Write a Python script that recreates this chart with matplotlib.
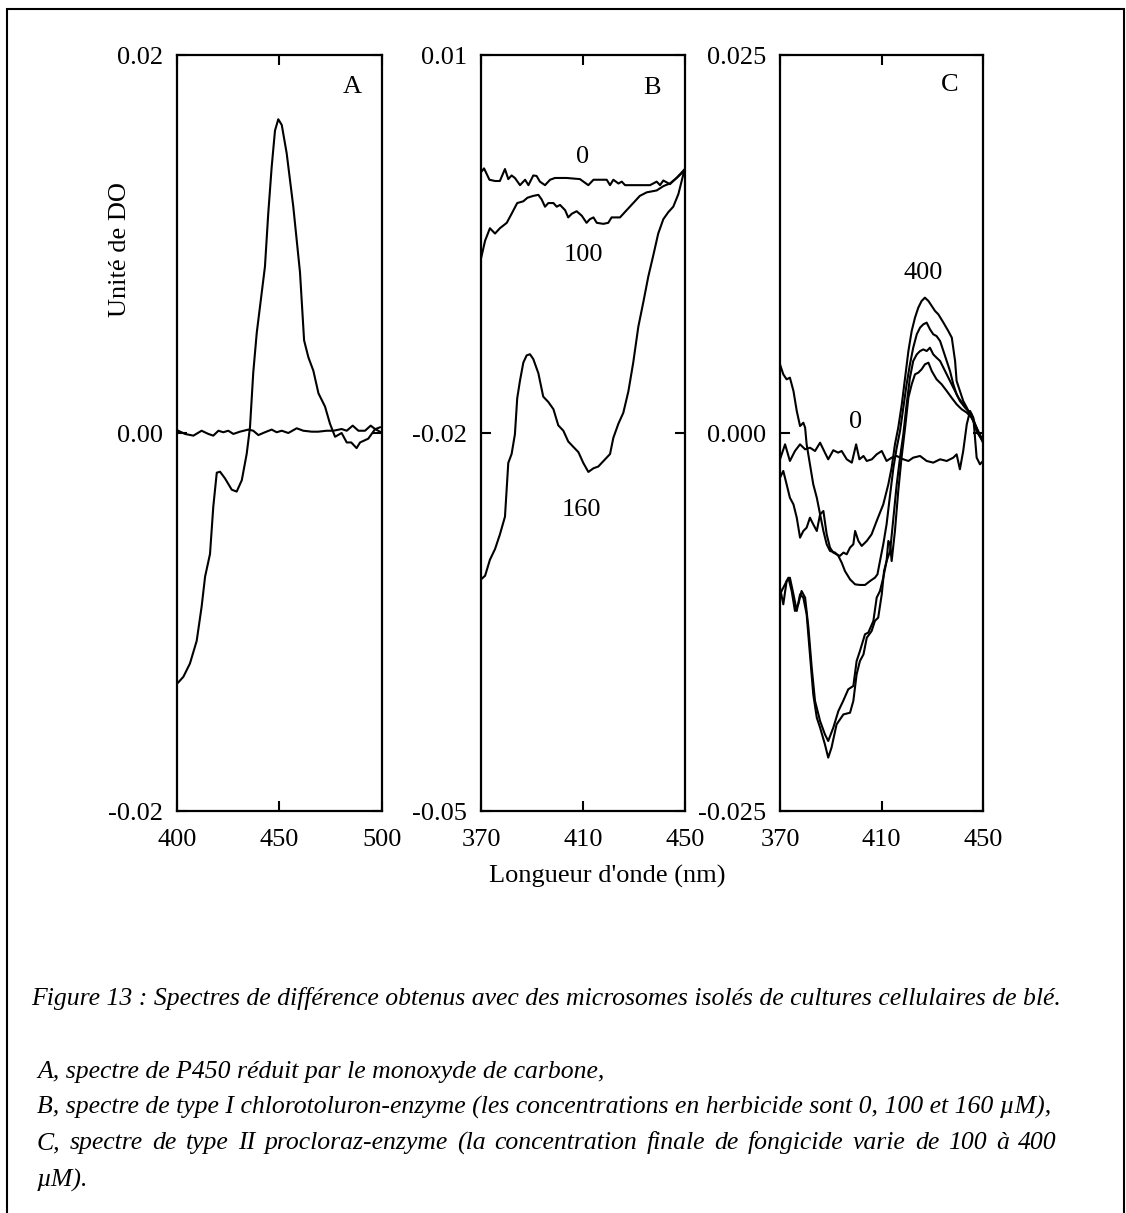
import matplotlib
matplotlib.use("Agg")
import matplotlib.pyplot as plt
from matplotlib.patches import Rectangle

plt.rcParams['font.family'] = ['Liberation Serif', 'DejaVu Serif']

# ---- panel A : P450 reduced by CO ----
a_x = [400.6, 403.1, 406.3, 409.6, 412.0, 413.7, 416.1, 417.7, 419.4, 421.0, 423.4, 426.7,
       429.1, 431.6, 434.0, 435.6, 437.2, 438.9, 440.5, 442.9, 444.5, 446.2, 447.8, 449.4,
       451.1, 453.5, 456.7, 460.0, 462.0, 464.1, 466.5, 469.0, 472.2, 474.6, 477.1, 480.3,
       482.8, 485.0, 487.6, 489.3, 493.3, 496.6, 499.0]
a_y = [-0.0132, -0.0129, -0.0122, -0.0110, -0.0092, -0.0076, -0.0064, -0.0039, -0.0021, -0.00205,
       -0.0024, -0.0030, -0.0031, -0.0025, -0.0011, 0.0003, 0.0032, 0.0053, 0.0067, 0.0088,
       0.0116, 0.0141, 0.0160, 0.0166, 0.0163, 0.0148, 0.0120, 0.0085, 0.0049, 0.0040,
       0.0033, 0.0021, 0.0014, 0.0005, -0.0002, -0.0000, -0.0005, -0.0005, -0.0008, -0.0005,
       -0.0003, 0.0002, 0.0003]
a_base_x = [400.6, 403.9, 408.0, 412.0, 415.3, 417.7, 420.2, 422.6, 425.0, 427.5, 430.7, 434.8,
            437.2, 439.7, 442.9, 446.2, 448.6, 451.1, 454.3, 458.4, 461.6, 465.7, 468.9, 473.0,
            476.3, 480.3, 482.8, 485.7, 488.5, 491.7, 494.5, 496.6, 499.0]
a_base_y = [0.00012, -0.00005, -0.00014, 0.00012, -0.00005, -0.00014, 0.00012, 0.00004, 0.00012,
            -0.00005, 0.00007, 0.00018, 0.00012, -0.00011, 0.00004, 0.00018, 0.00004, 0.00012,
            0.00000, 0.00025, 0.00012, 0.00007, 0.00007, 0.00012, 0.00012, 0.00021, 0.00012,
            0.00039, 0.00012, 0.00012, 0.00039, 0.00021, 0.00007]

# ---- panel B : chlorotoluron type I ----
b0_x = [370.0, 371.2, 373.3, 375.5, 377.4, 379.4, 380.7, 382.0, 383.3, 385.3, 387.3, 388.6,
        390.5, 391.8, 393.1, 395.1, 397.1, 399.0, 403.6, 408.8, 412.1, 414.1, 419.3, 420.6,
        421.9, 423.9, 425.2, 426.5, 429.7, 436.3, 438.9, 440.2, 441.5, 444.1, 446.7, 449.7]
b0_y = [0.0007, 0.0010, 0.0001, 0.0000, 0.0000, 0.00095, 0.00015, 0.00044, 0.00024, -0.00033,
        0.0001, -0.00033, 0.00044, 0.0004, -0.00005, -0.00033, 0.0001, 0.00024, 0.00024, 0.00015,
        -0.00033, 0.0001, 0.0001, -0.00033, 0.0001, -0.0002, -0.00005, -0.00033, -0.00033,
        -0.00033, -0.00005, -0.00033, 0.00004, -0.00025, 0.00024, 0.0008]
b100_x = [370.0, 371.6, 373.5, 375.5, 377.4, 380.1, 382.0, 384.2, 386.6, 388.2, 390.5, 392.5,
          393.8, 395.1, 396.4, 398.4, 399.7, 401.0, 403.0, 404.2, 405.6, 407.5, 409.5, 411.4,
          412.7, 414.1, 415.4, 418.0, 419.9, 421.2, 424.5, 427.1, 429.7, 432.3, 435.0, 438.9,
          441.5, 444.1, 446.7, 449.7]
b100_y = [-0.00616, -0.00474, -0.00375, -0.00417, -0.00375, -0.00332, -0.0026, -0.00175, -0.00161,
          -0.00133, -0.00118, -0.0011, -0.00147, -0.00204, -0.00175, -0.00175, -0.00204, -0.0019,
          -0.00232, -0.00289, -0.0026, -0.0024, -0.00275, -0.00332, -0.00303, -0.00289, -0.00332,
          -0.0034, -0.00332, -0.00289, -0.00289, -0.00232, -0.00175, -0.00118, -0.0009, -0.00075,
          -0.00041, -0.00019, 0.00024, 0.0009]
b160_x = [370.0, 371.6, 373.5, 375.5, 377.4, 379.4, 380.7, 382.0, 383.3, 384.2, 385.3, 386.6,
          387.9, 389.2, 390.5, 392.5, 394.4, 396.4, 398.4, 400.3, 402.3, 404.2, 406.2, 408.2,
          410.1, 412.1, 414.1, 416.0, 418.0, 420.6, 421.9, 423.9, 425.8, 427.8, 429.7, 431.7,
          433.7, 435.6, 437.6, 439.5, 441.5, 443.5, 445.4, 447.4, 449.7]
b160_y = [-0.03162, -0.03133, -0.03006, -0.02921, -0.02806, -0.02664, -0.02237, -0.02167, -0.0201,
          -0.01725, -0.01583, -0.01441, -0.01384, -0.01375, -0.01413, -0.01526, -0.01711, -0.01754,
          -0.01811, -0.01939, -0.01982, -0.02067, -0.0211, -0.02152, -0.02237, -0.02309, -0.0228,
          -0.02266, -0.02223, -0.02167, -0.02038, -0.01925, -0.0184, -0.01669, -0.01441, -0.01156,
          -0.00957, -0.00759, -0.00587, -0.00417, -0.00303, -0.00246, -0.00204, -0.00104, 0.00081]

# ---- panel C : prochloraz type II ----
c0_x = [370.0, 372.0, 373.9, 375.9, 377.9, 379.9, 381.8, 383.8, 385.8, 387.7, 389.0, 391.0,
        392.9, 394.3, 396.3, 398.3, 400.0, 401.3, 402.9, 404.2, 406.2, 408.1, 410.1, 412.0,
        414.0, 416.0, 418.6, 420.6, 422.5, 425.2, 427.8, 430.4, 433.1, 435.7, 438.3, 439.6,
        440.9, 442.2, 443.6, 444.9, 446.2, 447.5, 448.8, 450.0]
c0_y = [-0.00174, -0.00075, -0.00185, -0.00119, -0.00075, -0.00108, -0.00097, -0.00119, -0.00064,
        -0.0013, -0.00174, -0.00114, -0.0013, -0.00119, -0.00174, -0.00196, -0.00075, -0.00174,
        -0.00152, -0.00185, -0.00174, -0.00141, -0.00119, -0.00185, -0.00163, -0.00152, -0.00174,
        -0.00185, -0.00163, -0.00152, -0.00185, -0.00196, -0.00174, -0.00185, -0.00163, -0.00141,
        -0.0024, -0.00119, 0.00057, 0.00146, 0.00101, -0.00163, -0.00207, -0.00185]
c1_x = [370.0, 371.3, 372.6, 373.9, 375.3, 376.6, 377.9, 379.2, 379.9, 380.5, 381.8, 383.1,
        384.5, 385.8, 387.1, 388.4, 389.7, 391.7, 393.0, 394.3, 395.6, 397.6, 399.6, 401.5,
        403.5, 405.5, 407.4, 408.4, 409.4, 410.7, 412.0, 413.4, 414.7, 416.0, 417.3, 418.6,
        419.9, 421.2, 422.5, 423.9, 425.2, 426.5, 427.8, 429.1, 430.4, 431.7, 433.1, 434.4,
        435.7, 437.0, 438.3, 439.6, 440.9, 442.9, 444.9, 446.2, 448.2, 450.0]
c1_y = [0.00454, 0.00388, 0.00355, 0.00366, 0.00278, 0.00146, 0.00046, 0.00068, 0.00035, -0.00075,
        -0.00207, -0.00339, -0.00428, -0.00538, -0.00648, -0.00736, -0.0078, -0.00791, -0.00813,
        -0.00857, -0.00913, -0.00968, -0.01001, -0.01005, -0.01005, -0.00979, -0.00957, -0.00935,
        -0.00847, -0.00736, -0.00604, -0.00406, -0.00229, -0.00097, 0.00013, 0.00168, 0.00322,
        0.00454, 0.00564, 0.00653, 0.00697, 0.00719, 0.0073, 0.00686, 0.00653, 0.00641, 0.00608,
        0.00542, 0.00476, 0.0041, 0.00322, 0.00256, 0.00212, 0.00168, 0.00135, 0.00091, 0.0, -0.00064]
c2_x = [370.0, 371.3, 372.6, 373.9, 375.3, 376.6, 377.9, 379.2, 380.5, 381.8, 383.1, 384.5,
        385.8, 387.1, 388.4, 389.7, 391.0, 392.3, 393.6, 395.0, 396.3, 397.6, 398.9, 399.6,
        400.9, 402.2, 404.2, 406.1, 408.1, 410.7, 412.7, 414.0, 415.3, 416.6, 418.0, 419.3,
        420.6, 421.9, 423.2, 424.5, 425.8, 427.1, 428.5, 429.8, 431.1, 432.4, 434.4, 436.3,
        437.7, 439.0, 439.6, 440.9, 442.2, 443.6, 444.9, 446.2, 448.2, 450.0]
c2_y = [-0.00295, -0.00251, -0.00339, -0.00428, -0.00472, -0.0056, -0.00692, -0.00648, -0.00626,
        -0.0056, -0.00604, -0.00648, -0.00538, -0.00516, -0.0067, -0.00758, -0.00791, -0.00802,
        -0.00813, -0.00791, -0.00802, -0.00758, -0.00736, -0.00648, -0.00714, -0.00747, -0.00714,
        -0.0067, -0.00582, -0.00472, -0.00339, -0.00229, -0.00075, 0.00035, 0.0019, 0.00366,
        0.00542, 0.00675, 0.00763, 0.00829, 0.00873, 0.00895, 0.00873, 0.0084, 0.00807, 0.00785,
        0.0073, 0.00675, 0.00631, 0.00476, 0.00344, 0.00278, 0.00212, 0.00168, 0.00124, 0.0008,
        -0.00009, -0.00053]
c3_x = [370.0, 371.3, 372.6, 373.9, 375.3, 376.6, 377.9, 379.2, 380.5, 381.8, 383.1, 384.5,
        385.8, 387.7, 389.0, 390.3, 392.3, 395.0, 397.6, 398.9, 400.2, 401.5, 402.9, 404.2,
        406.1, 407.4, 408.7, 410.1, 411.0, 412.0, 413.4, 414.7, 416.0, 417.3, 418.6, 419.9,
        421.2, 422.5, 423.9, 425.2, 426.5, 427.8, 429.1, 430.4, 431.7, 433.1, 435.7, 438.3,
        440.3, 442.2, 444.2, 445.5, 447.5, 450.0]
c3_y = [-0.01023, -0.01133, -0.00979, -0.00957, -0.01067, -0.01177, -0.01067, -0.01089, -0.01199,
        -0.01464, -0.01728, -0.01883, -0.01949, -0.02059, -0.02147, -0.02081, -0.01927, -0.01861,
        -0.0185, -0.01772, -0.01596, -0.01508, -0.01464, -0.01354, -0.0131, -0.01243, -0.01221,
        -0.01067, -0.00913, -0.00847, -0.0078, -0.0056, -0.00339, -0.00163, -0.00009, 0.0019,
        0.00366, 0.00476, 0.0052, 0.00542, 0.00553, 0.00542, 0.00564, 0.0052, 0.00498, 0.00476,
        0.00388, 0.003, 0.00234, 0.0019, 0.00146, 0.00124, 0.00013, -0.00053]
c4_x = [370.0, 371.3, 373.3, 374.6, 375.9, 377.2, 378.5, 379.9, 381.2, 382.5, 383.8, 385.8,
        387.7, 389.0, 391.0, 393.0, 394.9, 396.9, 398.9, 400.2, 401.5, 403.5, 404.8, 406.8,
        408.1, 409.4, 410.7, 412.0, 412.7, 413.4, 414.0, 415.3, 416.6, 417.9, 419.3, 420.6,
        421.9, 423.2, 424.5, 425.8, 427.1, 428.5, 429.8, 431.7, 433.7, 435.7, 437.6, 439.6,
        441.6, 443.6, 445.5, 447.5, 450.0]
c4_y = [-0.01067, -0.01023, -0.00957, -0.01045, -0.01177, -0.01133, -0.01045, -0.01089, -0.01287,
        -0.01552, -0.01772, -0.01905, -0.01993, -0.02037, -0.01949, -0.01839, -0.01772, -0.01695,
        -0.01673, -0.01508, -0.01442, -0.01331, -0.0132, -0.01243, -0.01089, -0.01045, -0.00957,
        -0.00847, -0.00714, -0.00736, -0.00847, -0.00648, -0.00384, -0.00163, 0.00035, 0.00234,
        0.00322, 0.00388, 0.00399, 0.00421, 0.00454, 0.00465, 0.0041, 0.00355, 0.00322, 0.00278,
        0.00234, 0.0019, 0.00157, 0.00135, 0.00101, 0.00035, -0.00053]

# axis setup per panel
panels = {
    'A': dict(xlim=(400, 500), ylim=(-0.02, 0.02), xt=[400, 450, 500],
              yt=[-0.02, 0.0, 0.02], ytl=['-0.02', '0.00', '0.02'], letter=(485.5, 0.0183)),
    'B': dict(xlim=(370, 450), ylim=(-0.05, 0.01), xt=[370, 410, 450],
              yt=[-0.05, -0.02, 0.01], ytl=['-0.05', '-0.02', '0.01'], letter=(437.0, 0.0074)),
    'C': dict(xlim=(370, 450), ylim=(-0.025, 0.025), xt=[370, 410, 450],
              yt=[-0.025, 0.0, 0.025], ytl=['-0.025', '0.000', '0.025'], letter=(437.0, 0.0230)),
}
lefts = {'A': 177, 'B': 481, 'C': 780}
widths = {'A': 205, 'B': 204, 'C': 203}

W, H = 1126, 1213
fig = plt.figure(figsize=(W / 100, H / 100), dpi=100)

axes = {}
for key, p in panels.items():
    ax = fig.add_axes([lefts[key] / W, (H - 811) / H, widths[key] / W, 756 / H])
    ax.set_xlim(*p['xlim'])
    ax.set_ylim(*p['ylim'])
    ax.set_xticks(p['xt'])
    ax.set_yticks(p['yt'])
    ax.set_yticklabels(p['ytl'])
    ax.tick_params(direction='in', length=7, width=1.5, labelsize=19,
                   top=True, right=True, colors='black')
    ax.tick_params(axis='y', pad=10)
    ax.tick_params(axis='x', pad=13)
    for s in ax.spines.values():
        s.set_linewidth(1.6)
    ax.text(p['letter'][0], p['letter'][1], key, fontsize=19, ha='center', va='center')
    axes[key] = ax

lw = 1.5
ax = axes['A']
ax.plot(a_x, a_y, color='black', lw=lw)
ax.plot(a_base_x, a_base_y, color='black', lw=lw)

ax = axes['B']
for xs, ys in [(b0_x, b0_y), (b100_x, b100_y), (b160_x, b160_y)]:
    ax.plot(xs, ys, color='black', lw=lw)
ax.text(409.9, 0.0019, '0', fontsize=19, ha='center', va='center')
ax.text(410.1, -0.0059, '100', fontsize=19, ha='center', va='center')
ax.text(409.5, -0.0261, '160', fontsize=19, ha='center', va='center')

ax = axes['C']
for xs, ys in [(c0_x, c0_y), (c1_x, c1_y), (c2_x, c2_y), (c3_x, c3_y), (c4_x, c4_y)]:
    ax.plot(xs, ys, color='black', lw=lw)
ax.text(426.5, 0.0106, '400', fontsize=19, ha='center', va='center')
ax.text(399.6, 0.0007, '0', fontsize=19, ha='center', va='center')

# shared labels
fig.text(120 / W, 1 - 250 / H, 'Unité de DO', rotation=90, fontsize=19, ha='center', va='center')
fig.text(607 / W, 1 - 876 / H, "Longueur d'onde (nm)", fontsize=19, ha='center', va='center')

# frame around the whole figure
fig.add_artist(Rectangle((7 / W, -0.05), (1124 - 7) / W, 1.05 - 9 / H, transform=fig.transFigure,
                         fill=False, lw=1.5, edgecolor='black'))

# caption
cap_fs = 18.5
fig.text(31 / W, 1 - 998 / H,
         "Figure 13 : Spectres de différence obtenus avec des microsomes isolés de cultures cellulaires de blé.",
         fontsize=cap_fs, style='italic', ha='left', va='center')
fig.text(37 / W, 1 - 1072 / H, "A, spectre de P450 réduit par le monoxyde de carbone,",
         fontsize=cap_fs, style='italic', ha='left', va='center')
fig.text(37 / W, 1 - 1107 / H,
         "B, spectre de type I chlorotoluron-enzyme (les concentrations en herbicide sont 0, 100 et 160 µM),",
         fontsize=cap_fs, style='italic', ha='left', va='center')
fig.text(37 / W, 1 - 1180 / H, "µM).", fontsize=cap_fs, style='italic', ha='left', va='center')

# justified line
words = "C, spectre de type II procloraz-enzyme (la concentration finale de fongicide varie de 100 à 400".split()
renderer = fig.canvas.get_renderer()
arts = []
total = 0
for w in words:
    t = fig.text(0, 1 - 1143 / H, w, fontsize=cap_fs, style='italic', ha='left', va='center')
    bb = t.get_window_extent(renderer)
    arts.append((t, bb.width))
    total += bb.width
gap = (1057 - 37 - total) / (len(words) - 1)
xpos = 37
for t, wd in arts:
    t.set_x(xpos / W)
    xpos += wd + gap

fig.savefig('out.png', dpi=100)
